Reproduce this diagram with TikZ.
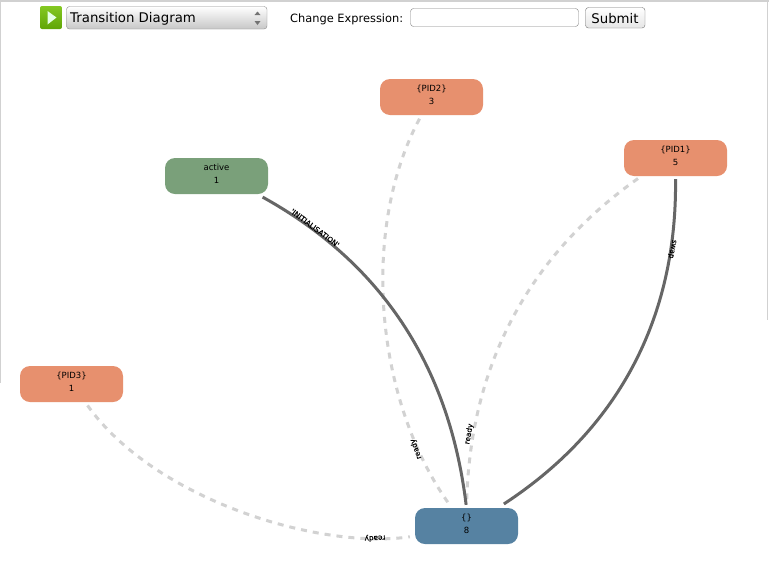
\documentclass[tikz,border=0pt]{standalone}
\usepackage{fontspec}
\setmainfont{DejaVu Sans}
\newfontfamily\edgefont[FakeBold=0.25]{DejaVu Sans}
\definecolor{pidorange}{RGB}{231,144,110}
\definecolor{activegreen}{RGB}{122,160,122}
\definecolor{emptyblue}{RGB}{86,130,162}
\definecolor{edgegrey}{RGB}{102,102,102}
\definecolor{readygrey}{RGB}{210,210,210}
\definecolor{playtop}{RGB}{132,200,34}
\definecolor{playbottom}{RGB}{96,165,6}
\tikzset{
	statebox/.style={rounded corners=10pt, minimum width=103pt, minimum height=36pt, inner sep=0pt, align=center, text depth=4pt, font=\fontsize{8.5}{13}\selectfont},
	edgeline/.style={edgegrey, line width=3pt, shorten <=3pt, shorten >=3pt},
	readyline/.style={readygrey, line width=3pt, dash pattern=on 6pt off 6pt, shorten <=4pt, shorten >=5pt},
	edgelabel/.style={inner sep=0pt, font=\edgefont\fontsize{7.3}{9}\selectfont},
	uitext/.style={inner sep=0pt, anchor=west, font=\fontsize{11.4}{13}\selectfont},
}
\begin{document}
\begin{tikzpicture}[x=1pt,y=-1pt]
	\useasboundingbox (0,0) rectangle (769,582);
	\fill[white] (0,0) rectangle (769,582);

	% page frame
	\fill[black!18] (0,0) rectangle (769,1.5);
	\fill[black!18] (0,0) rectangle (1,383);
	\fill[black!18] (766.5,0) rectangle (767.5,320);

	% toolbar
	\shade[rounded corners=2pt, top color=playtop, bottom color=playbottom] (40,6) rectangle (62,29);
	\fill[white!90!green] (47.5,11) -- (56.5,17.5) -- (47.5,24.5) -- cycle;
	\shade[rounded corners=3pt, draw=black!45, top color=white, bottom color=black!22] (66.5,6.5) rectangle (267,29);
	\node[uitext, font=\fontsize{13.3}{15}\selectfont] (select) at (70,18.5) {Transition Diagram};
	\fill[black!55] (254.5,15) -- (257.5,11.5) -- (260.5,15) -- cycle;
	\fill[black!55] (254.5,21) -- (257.5,25) -- (260.5,21) -- cycle;
	\node[uitext] (change) at (290,19) {Change Expression:};
	\draw[black!50, rounded corners=3pt, fill=white] (410.5,8.5) rectangle (578.5,26.5);
	\shade[rounded corners=3pt, draw=black!55, top color=white, bottom color=black!10] (585.5,7.5) rectangle (645,28);
	\node[uitext, anchor=center, font=\fontsize{13.3}{15}\selectfont] (submit) at (615,18.5) {Submit};

	\node[statebox, fill=activegreen] (active) at (216.5,176) {active\\1};
	\node[statebox, fill=pidorange] (pid2) at (431.5,97) {\{PID2\}\\3};
	\node[statebox, fill=pidorange] (pid1) at (675.5,158) {\{PID1\}\\5};
	\node[statebox, fill=pidorange] (pid3) at (71.5,384) {\{PID3\}\\1};
	\node[statebox, fill=emptyblue] (empty) at (466.5,526) {\{\}\\8};

	\draw[readyline] (pid3.-53) .. controls (155,500) and (320,550) .. (empty.191);
	\draw[readyline] (pid2.-119) .. controls (360,230) and (375,400) .. (empty.129);
	\draw[readyline] (pid1.-152) .. controls (527,257) and (470,367) .. (empty.north);
	\draw[edgeline, shorten <=6pt] (active.-24) .. controls (380,262) and (449,364) .. (empty.north);
	\draw[edgeline, shorten >=7pt] (pid1.south) .. controls (677,320) and (617,430) .. (empty.30);

	\node[edgelabel, rotate=-37] (init) at (315,228) {'INITIALISATION'};
	\node[edgelabel, rotate=-101] (swap) at (672,249) {swap};
	\node[edgelabel, rotate=110] (ready2) at (416,449) {ready};
	\node[edgelabel, rotate=80] (ready1) at (469,434) {ready};
	\node[edgelabel, rotate=183] (ready3) at (375,538) {ready};
\end{tikzpicture}
\end{document}
